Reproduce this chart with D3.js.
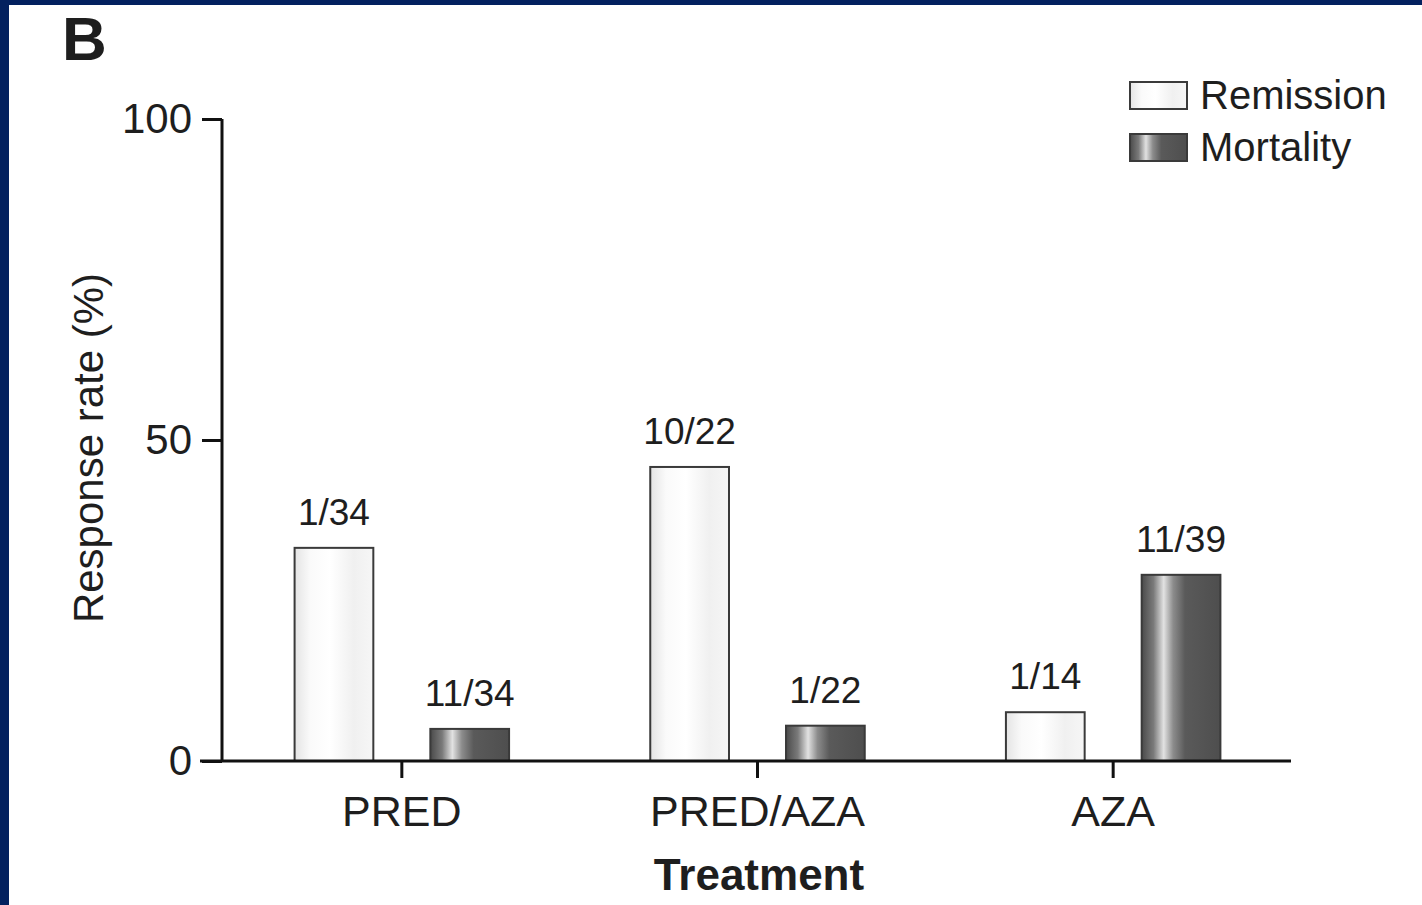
<!DOCTYPE html>
<meta charset="utf-8">
<style>
body { margin: 0; background: #fff; }
svg { display: block; }
text { font-family: "Liberation Sans", Arial, sans-serif; fill: #1e1e1e; }
.axis path, .axis line { stroke: #111; stroke-width: 3px; }
.axis text { font-size: 42px; }
.bar { stroke: #3a3a3a; stroke-width: 2px; }
</style>
<body>
<script src="https://cdn.jsdelivr.net/npm/d3@7"></script>
<script>

// data
var treatments = ["PRED", "PRED/AZA", "AZA"];
var series = ["Remission", "Mortality"];
var remission = [33.2, 45.8, 7.6];
var mortality = [5.0, 5.5, 29.0];
var remissionLabels = ["1/34", "10/22", "1/14"];
var mortalityLabels = ["11/34", "1/22", "11/39"];
var yTicks = [0, 50, 100];

var width = 1422, height = 905;

var svg = d3.select("body").append("svg")
    .attr("width", width)
    .attr("height", height);

// frame
svg.append("rect").attr("width", width).attr("height", height).attr("fill", "#fff");
svg.append("rect").attr("x", 0).attr("y", 0).attr("width", width).attr("height", 5).attr("fill", "#03215f");
svg.append("rect").attr("x", 0).attr("y", 0).attr("width", 9).attr("height", height).attr("fill", "#03215f");

// gradients
var defs = svg.append("defs");
var gRem = defs.append("linearGradient").attr("id", "gradRem");
[["0%", "#e4e4e4"], ["20%", "#fafafa"], ["45%", "#ffffff"], ["75%", "#f0f0f0"], ["100%", "#f6f6f6"]]
  .forEach(function(s) { gRem.append("stop").attr("offset", s[0]).attr("stop-color", s[1]); });
var gMor = defs.append("linearGradient").attr("id", "gradMor");
[["0%", "#4a4a4a"], ["15%", "#7a7a7a"], ["28%", "#e2e2e2"], ["40%", "#8c8c8c"], ["55%", "#5a5a5a"], ["100%", "#4e4e4e"]]
  .forEach(function(s) { gMor.append("stop").attr("offset", s[0]).attr("stop-color", s[1]); });
var fills = { Remission: "url(#gradRem)", Mortality: "url(#gradMor)" };

// scales
var y = d3.scaleLinear().domain([0, 100]).range([761, 119]);
var x0 = d3.scaleBand().domain(treatments).range([224, 1291]).padding(0);
var x1 = d3.scaleBand().domain(series).range([0, x0.bandwidth()])
    .paddingInner(0.42).paddingOuter(0.52);

var rows = treatments.map(function(t, i) {
  return [
    { t: t, s: "Remission", v: remission[i], lab: remissionLabels[i] },
    { t: t, s: "Mortality", v: mortality[i], lab: mortalityLabels[i] }
  ];
});
var flat = d3.merge(rows);

// bars
svg.selectAll(".bar").data(flat).enter().append("rect")
    .attr("class", "bar")
    .attr("x", function(d) { return x0(d.t) + x1(d.s); })
    .attr("y", function(d) { return y(d.v); })
    .attr("width", x1.bandwidth())
    .attr("height", function(d) { return y(0) - y(d.v); })
    .attr("fill", function(d) { return fills[d.s]; });

// count labels
svg.selectAll(".lab").data(flat).enter().append("text")
    .attr("class", "lab")
    .attr("x", function(d) { return x0(d.t) + x1(d.s) + x1.bandwidth() / 2; })
    .attr("y", function(d) { return y(d.v) - 23; })
    .attr("text-anchor", "middle")
    .style("font-size", "37px")
    .text(function(d) { return d.lab; });

// axes
var yAxis = svg.append("g").attr("class", "axis")
    .attr("transform", "translate(222,0)")
    .call(d3.axisLeft(y).tickValues(yTicks).tickSize(20).tickPadding(10).tickSizeOuter(0));
yAxis.select(".domain").attr("d", "M0," + y(100) + "V" + y(0));

var xAxis = svg.append("g").attr("class", "axis")
    .attr("transform", "translate(0,761)")
    .call(d3.axisBottom(x0).tickSize(17).tickPadding(17).tickSizeOuter(0));
xAxis.select(".domain").attr("d", "M200,0H1291");
xAxis.selectAll("text").style("font-size", "43px");

// titles
svg.append("text")
    .attr("x", 759).attr("y", 890)
    .attr("text-anchor", "middle")
    .style("font-size", "44px").style("font-weight", "bold")
    .text("Treatment");

svg.append("text")
    .attr("transform", "translate(103,448) rotate(-90)")
    .attr("text-anchor", "middle")
    .style("font-size", "42px")
    .text("Response rate (%)");

svg.append("text")
    .attr("x", 62).attr("y", 60)
    .style("font-size", "62px").style("font-weight", "bold")
    .text("B");

// legend
var legend = svg.selectAll(".legend").data(series).enter().append("g")
    .attr("transform", function(d, i) { return "translate(1130," + (82 + i * 52) + ")"; });
legend.append("rect")
    .attr("class", "bar")
    .attr("width", 57).attr("height", 27)
    .attr("fill", function(d) { return fills[d]; });
legend.append("text")
    .attr("x", 70).attr("y", 27)
    .style("font-size", "40px")
    .text(function(d) { return d; });

</script>
</body>
